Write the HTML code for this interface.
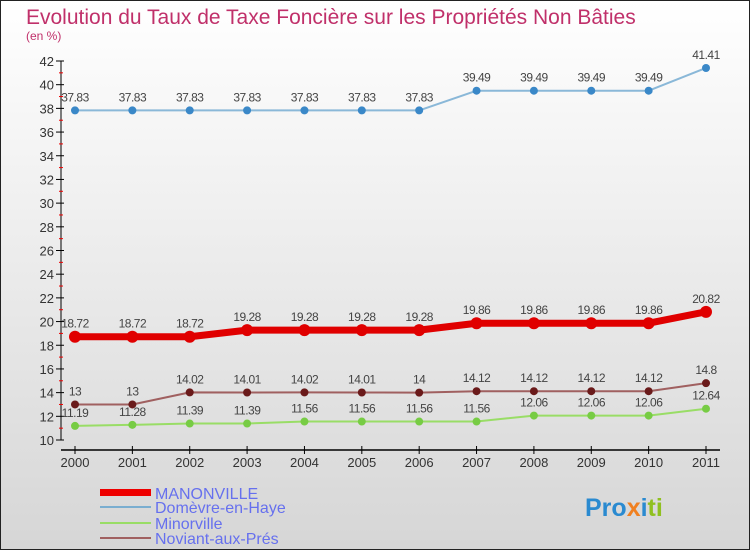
<!DOCTYPE html>
<html><head><meta charset="utf-8"><style>
body{margin:0;}
svg{display:block;font-family:"Liberation Sans",sans-serif;}
</style></head><body>
<svg id="c" width="750" height="550" xmlns="http://www.w3.org/2000/svg">
<defs><linearGradient id="bg" x1="0" y1="0" x2="0" y2="1"><stop offset="0" stop-color="#ffffff"/><stop offset="1" stop-color="#d6d6d6"/></linearGradient></defs>
<rect x="0.5" y="0.5" width="749" height="549" fill="url(#bg)" stroke="#222"/>
<text x="26" y="24" font-size="21" fill="#c0306a">Evolution du Taux de Taxe Foncière sur les Propriétés Non Bâties</text>
<text x="26" y="40" font-size="12" fill="#c0306a">(en %)</text>
<g id="axes"></g><g id="series"></g>
<g>
<rect x="100" y="489" width="51" height="7" fill="#e00"/>
<text x="155" y="499" font-size="16" fill="#6670ee">MANONVILLE</text>
<rect x="100" y="506" width="51" height="2" fill="#7aaed0"/>
<text x="155" y="513" font-size="16" fill="#6670ee">Domèvre-en-Haye</text>
<rect x="100" y="522" width="51" height="2" fill="#99dd66"/>
<text x="155" y="529" font-size="16" fill="#6670ee">Minorville</text>
<rect x="100" y="537" width="51" height="2" fill="#a06060"/>
<text x="155" y="544" font-size="16" fill="#6670ee">Noviant-aux-Prés</text>
</g>
<text x="585" y="516" font-size="25" font-weight="bold"><tspan fill="#2a8ad0">Pro</tspan><tspan fill="#f08020">x</tspan><tspan fill="#2a8ad0">i</tspan><tspan fill="#90c020">ti</tspan></text>
</svg>
<script>
const years=["2000","2001","2002","2003","2004","2005","2006","2007","2008","2009","2010","2011"];
const manonville=[18.72,18.72,18.72,19.28,19.28,19.28,19.28,19.86,19.86,19.86,19.86,20.82];
const domevre=[37.83,37.83,37.83,37.83,37.83,37.83,37.83,39.49,39.49,39.49,39.49,41.41];
const minorville=[11.19,11.28,11.39,11.39,11.56,11.56,11.56,11.56,12.06,12.06,12.06,12.64];
const noviant=[13,13,14.02,14.01,14.02,14.01,14,14.12,14.12,14.12,14.12,14.8];
const manonLabels=["18.72","18.72","18.72","19.28","19.28","19.28","19.28","19.86","19.86","19.86","19.86","20.82"];
const domLabels=["37.83","37.83","37.83","37.83","37.83","37.83","37.83","39.49","39.49","39.49","39.49","41.41"];
const minLabels=["11.19","11.28","11.39","11.39","11.56","11.56","11.56","11.56","12.06","12.06","12.06","12.64"];
const novLabels=["13","13","14.02","14.01","14.02","14.01","14","14.12","14.12","14.12","14.12","14.8"];
const yTicks=[10,12,14,16,18,20,22,24,26,28,30,32,34,36,38,40,42];
const NS="http://www.w3.org/2000/svg";
const x=i=>75+i*(706-75)/11;
const y=v=>440-(v-10)*(440-61)/32;
function mk(t,a,p){const e=document.createElementNS(NS,t);for(const k in a)e.setAttribute(k,a[k]);p.appendChild(e);return e;}
const ax=document.getElementById('axes');
const yl=mk('line',{x1:61,y1:y(42),x2:61,y2:y(10),stroke:'#000'},ax);


const xl=mk('line',{x1:61,y1:450,x2:720,y2:450,stroke:'#000','stroke-width':1.5},ax);


yTicks.forEach((v,k)=>{
 mk('line',{x1:56,x2:64,y1:y(v),y2:y(v),stroke:'#000'},ax);
 if(k<yTicks.length-1) mk('line',{x1:59,x2:63,y1:y(v+1),y2:y(v+1),stroke:'#e00'},ax);
 const t=mk('text',{x:54,y:y(v)+5,'font-size':13,'text-anchor':'end',fill:'#333'},ax);
 t.textContent=v;
 
 
});
years.forEach((yr,i)=>{
 mk('line',{x1:x(i),x2:x(i),y1:446,y2:454,stroke:'#000'},ax);
 const t=mk('text',{x:x(i),y:467,'font-size':13,'text-anchor':'middle',fill:'#333'},ax);
 t.textContent=yr;
 
 
});
const sg=document.getElementById('series');
function series(vals,labels,color,dot,w,r,name){
 const g=mk('g',{},sg);
 
 
 const pl=mk('polyline',{points:vals.map((v,i)=>x(i)+','+y(v)).join(' '),fill:'none',stroke:color,'stroke-width':w,'stroke-linejoin':'round'},g);
 
 
 vals.forEach((v,i)=>{
  const c=mk('circle',{cx:x(i),cy:y(v),r:r,fill:dot},g);
  
  
  const t=mk('text',{x:x(i),y:y(v)-9,'font-size':12,'text-anchor':'middle',fill:'#444','letter-spacing':'-0.5'},g);
  t.textContent=labels[i];
  
  
 });
}
series(domevre,domLabels,'#8ab8d8','#3a88c8',2,4,'domevre');
series(noviant,novLabels,'#a06060','#6a1a1a',2,4,'noviant');
series(minorville,minLabels,'#99dd66','#77cc44',2,4,'minorville');
series(manonville,manonLabels,'#e00000','#e00000',7,6,'manonville');
</script>
</body></html>
